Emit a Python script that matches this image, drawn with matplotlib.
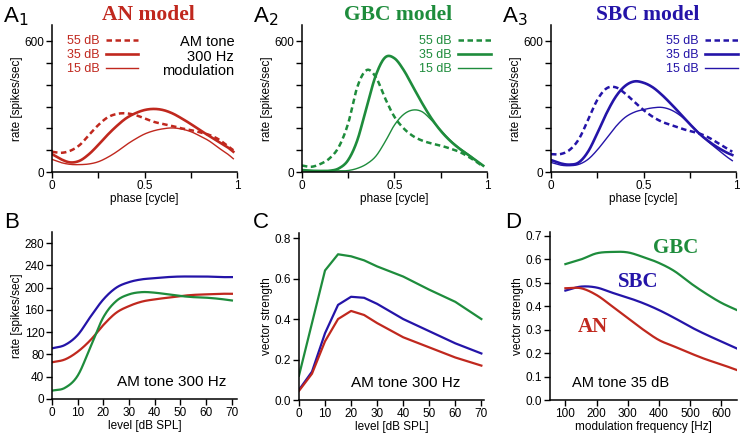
import numpy as np
import matplotlib
matplotlib.use('Agg')
import matplotlib.pyplot as plt

plt.rcParams['font.family'] = ['Liberation Sans', 'DejaVu Sans']
plt.rcParams['axes.linewidth'] = 1.1

red = '#c0281e'
green = '#1e8c3c'
blue = '#2414a8'

# A panels: rate vs phase (same phase grid for all curves)
phase = [0, 0.05, 0.1, 0.15, 0.2, 0.25, 0.3, 0.35, 0.4, 0.45, 0.5,
         0.55, 0.6, 0.65, 0.7, 0.75, 0.8, 0.85, 0.9, 0.95, 0.98]
an_55 = [93, 88, 98, 124, 170, 215, 250, 266, 269, 261, 246,
         230, 220, 211, 200, 192, 182, 170, 150, 119, 100]
an_35 = [82, 58, 44, 52, 82, 124, 170, 211, 246, 269, 284,
         289, 284, 269, 246, 220, 192, 165, 139, 113, 93]
an_15 = [58, 43, 35, 34, 37, 47, 67, 93, 124, 151, 174,
         189, 198, 202, 197, 185, 165, 142, 111, 82, 61]

gbc_55 = [30, 24, 37, 63, 116, 223, 391, 467, 434, 337, 253,
          200, 165, 144, 131, 121, 108, 93, 70, 43, 24]
gbc_35 = [9, 6, 5, 6, 17, 55, 147, 299, 444, 525, 521,
          467, 391, 315, 246, 189, 144, 108, 78, 47, 29]
gbc_15 = [6, 5, 5, 5, 5, 7, 17, 37, 73, 139, 215,
          264, 284, 276, 238, 192, 147, 111, 81, 47, 29]

sbc_55 = [82, 82, 101, 150, 238, 330, 383, 388, 360, 322, 284,
          253, 230, 215, 200, 188, 177, 159, 134, 108, 93]
sbc_35 = [55, 40, 34, 44, 93, 177, 269, 345, 394, 415, 409,
          388, 353, 311, 266, 220, 177, 142, 113, 89, 78]
sbc_15 = [44, 32, 29, 35, 58, 101, 154, 208, 250, 274, 286,
          294, 296, 284, 258, 220, 180, 139, 104, 70, 52]

# B: rate vs level
level = [0, 5, 10, 15, 20, 25, 30, 35, 40, 45, 50, 55, 60, 65, 70]
rate_sbc = [91, 97, 115, 148, 179, 200, 210, 215, 217, 219, 220, 220, 220, 219, 219]
rate_an = [66, 71, 85, 106, 133, 155, 167, 175, 179, 182, 185, 187, 188, 189, 189]
rate_gbc = [15, 20, 42, 94, 147, 176, 188, 192, 191, 188, 185, 183, 182, 180, 177]

# C: vector strength vs level
level_c = [0, 5, 10, 15, 20, 25, 30, 40, 50, 60, 70]
vs_gbc = [0.12, 0.38, 0.64, 0.72, 0.71, 0.69, 0.66, 0.61, 0.545, 0.485, 0.40]
vs_sbc = [0.05, 0.14, 0.33, 0.47, 0.51, 0.505, 0.475, 0.40, 0.34, 0.28, 0.23]
vs_an = [0.045, 0.13, 0.29, 0.40, 0.44, 0.42, 0.38, 0.31, 0.26, 0.21, 0.17]

# D: vector strength vs modulation frequency
fmod = [100, 150, 200, 250, 300, 350, 400, 450, 500, 550, 600, 650]
vsd_gbc = [0.58, 0.60, 0.626, 0.632, 0.63, 0.61, 0.585, 0.55, 0.50, 0.455, 0.415, 0.384]
vsd_sbc = [0.467, 0.484, 0.48, 0.458, 0.437, 0.413, 0.384, 0.35, 0.313, 0.28, 0.25, 0.22]
vsd_an = [0.477, 0.477, 0.448, 0.40, 0.35, 0.30, 0.256, 0.228, 0.20, 0.174, 0.152, 0.128]

fig = plt.figure(figsize=(7.4, 4.4), dpi=100)


def style(ax):
    ax.spines['top'].set_visible(False)
    ax.spines['right'].set_visible(False)
    ax.tick_params(direction='out', length=4, width=1, labelsize=8.5, pad=1.5)


def smooth(x, y, n=300):
    # cubic Hermite (Catmull-Rom) through the read points, for drawing only
    x = np.asarray(x, float)
    y = np.asarray(y, float)
    xs = np.linspace(x[0], x[-1], n)
    ys = np.empty_like(xs)
    for k, xv in enumerate(xs):
        i = min(np.searchsorted(x, xv, side='right') - 1, len(x) - 2)
        i0, i1, i2, i3 = max(i - 1, 0), i, i + 1, min(i + 2, len(x) - 1)
        h = x[i2] - x[i1]
        t = (xv - x[i1]) / h
        m1 = (y[i2] - y[i0]) / (x[i2] - x[i0]) * h
        m2 = (y[i3] - y[i1]) / (x[i3] - x[i1]) * h
        ys[k] = ((2 * t**3 - 3 * t**2 + 1) * y[i1] + (t**3 - 2 * t**2 + t) * m1
                 + (-2 * t**3 + 3 * t**2) * y[i2] + (t**3 - t**2) * m2)
    return xs, ys


def apanel(rect, col, d55, d35, d15, title, letter, loc, anchor):
    ax = fig.add_axes(rect)
    style(ax)
    l1, = ax.plot(*smooth(phase, d55), color=col, lw=1.8, ls=(0, (2.2, 1.4)), label='55 dB')
    l2, = ax.plot(*smooth(phase, d35), color=col, lw=1.9, label='35 dB')
    l3, = ax.plot(*smooth(phase, d15), color=col, lw=1.0, label='15 dB')
    ax.set_xlim(0, 1.0)
    ax.set_ylim(0, 673)
    ax.set_yticks(range(0, 700, 100))
    ax.set_yticklabels(['0', '', '', '', '', '', '600'])
    ax.set_xticks([0, 0.25, 0.5, 0.75, 1])
    ax.set_xticklabels(['0', '', '0.5', '', '1'])
    ax.set_xlabel('phase [cycle]', fontsize=8.5, labelpad=1)
    ax.set_ylabel('rate [spikes/sec]', fontsize=8.5, labelpad=1)
    ax.legend(handles=[l1, l2, l3], loc=loc, bbox_to_anchor=anchor, frameon=False,
              markerfirst=False, fontsize=9, labelcolor=col, handlelength=2.6,
              handletextpad=0.5, labelspacing=0.15, borderpad=0.0, borderaxespad=0.0)
    x0 = rect[0]
    fig.text(x0 - 0.066, 0.95, letter, fontsize=16, va='baseline')
    fig.text(x0 + 0.13, 0.967, title, fontsize=15.5, color=col, ha='center', va='center',
             family='Liberation Serif', weight='bold')
    return ax


a1 = apanel([0.0703, 0.609, 0.25, 0.334], red, an_55, an_35, an_15,
            'AN model', 'A$_1$', 'upper left', (0.08, 0.93))
a1.text(0.985, 0.93, 'AM tone\n300 Hz\nmodulation', transform=a1.transAxes,
        ha='right', va='top', fontsize=10.5, linespacing=1.05)
apanel([0.408, 0.609, 0.25, 0.334], green, gbc_55, gbc_35, gbc_15,
       'GBC model', 'A$_2$', 'upper right', (1.02, 0.93))
apanel([0.7446, 0.609, 0.25, 0.334], blue, sbc_55, sbc_35, sbc_15,
       'SBC model', 'A$_3$', 'upper right', (1.01, 0.93))

# B
axb = fig.add_axes([0.0703, 0.0932, 0.25, 0.3795])
style(axb)
axb.plot(*smooth(level, rate_sbc), color=blue, lw=1.6)
axb.plot(*smooth(level, rate_an), color=red, lw=1.6)
axb.plot(*smooth(level, rate_gbc), color=green, lw=1.6)
axb.set_xlim(0, 72)
axb.set_ylim(0, 300)
axb.set_xticks(range(0, 71, 10))
axb.set_yticks(range(0, 281, 40))
axb.set_xlabel('level [dB SPL]', fontsize=8.5, labelpad=1)
axb.set_ylabel('rate [spikes/sec]', fontsize=8.5, labelpad=1)
axb.text(0.94, 0.08, 'AM tone 300 Hz', transform=axb.transAxes, ha='right', fontsize=11)
fig.text(0.006, 0.482, 'B', fontsize=16, va='baseline')

# C
axc = fig.add_axes([0.404, 0.0909, 0.25, 0.3795])
style(axc)
axc.plot(level_c, vs_gbc, color=green, lw=1.6)
axc.plot(level_c, vs_sbc, color=blue, lw=1.6)
axc.plot(level_c, vs_an, color=red, lw=1.6)
axc.set_xlim(0, 71)
axc.set_ylim(0, 0.825)
axc.set_xticks(range(0, 71, 10))
axc.set_yticks([0, 0.2, 0.4, 0.6, 0.8])
axc.set_yticklabels(['0.0', '0.2', '0.4', '0.6', '0.8'])
axc.set_xlabel('level [dB SPL]', fontsize=8.5, labelpad=1)
axc.set_ylabel('vector strength', fontsize=8.5, labelpad=1)
axc.text(0.875, 0.08, 'AM tone 300 Hz', transform=axc.transAxes, ha='right', fontsize=11)
fig.text(0.342, 0.482, 'C', fontsize=16, va='baseline')

# D
axd = fig.add_axes([0.743, 0.0909, 0.2527, 0.3818])
style(axd)
axd.plot(*smooth(fmod, vsd_gbc), color=green, lw=1.6)
axd.plot(*smooth(fmod, vsd_sbc), color=blue, lw=1.6)
axd.plot(*smooth(fmod, vsd_an), color=red, lw=1.6)
axd.set_xlim(50, 650)
axd.set_ylim(0, 0.717)
axd.set_xticks(range(100, 601, 100))
axd.set_yticks(np.arange(0, 0.71, 0.1))
axd.set_yticklabels(['0.0', '0.1', '0.2', '0.3', '0.4', '0.5', '0.6', '0.7'])
axd.set_xlabel('modulation frequency [Hz]', fontsize=8.5, labelpad=1)
axd.set_ylabel('vector strength', fontsize=8.5, labelpad=1)
axd.text(0.12, 0.08, 'AM tone 35 dB', transform=axd.transAxes, fontsize=10.5)
for txt, x, y, c in [('GBC', 455, 0.649, green), ('SBC', 334, 0.504, blue), ('AN', 188, 0.31, red)]:
    axd.text(x, y, txt, color=c, fontsize=15, family='Liberation Serif', weight='bold',
             ha='center', va='center')
fig.text(0.682, 0.482, 'D', fontsize=16, va='baseline')

fig.savefig('out.png', dpi=100)
